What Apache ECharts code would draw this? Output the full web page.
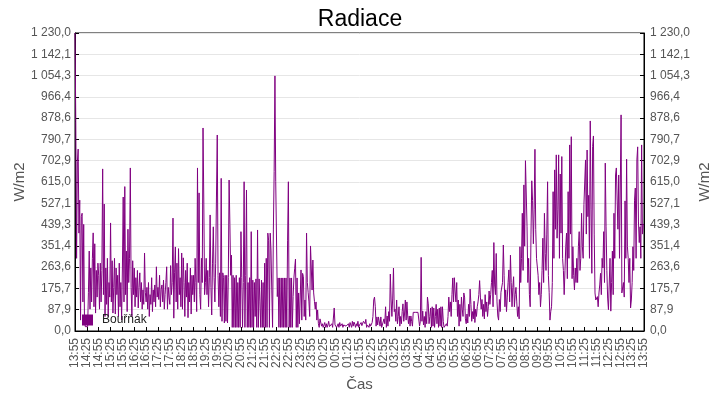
<!DOCTYPE html>
<html>
<head>
<meta charset="utf-8">
<script src="https://cdn.jsdelivr.net/npm/echarts@6/dist/echarts.min.js"></script>
<style>html,body{margin:0;padding:0;background:#fff}#c{width:720px;height:400px}</style>
</head>
<body>
<div id="c"></div>
<script>
// Time axis: first sample and sampling step (minutes)
const startTime = '13:55';
const stepMinutes = 2;
const labelEvery = 15; // one label per 30 minutes

// Radiation values [W/m2], one row per 30 minutes (15 samples each), last value = 13:55 next day
const radiation = [
  1230, 864, 300, 699, 751, 404, 540, 45, 472, 486, 120, 440, 45, 18, 18,        // 13:55
  18, 18, 160, 330, 90, 260, 120, 300, 405, 100, 360, 74, 250, 140, 280,         // 14:25
  230, 90, 280, 120, 250, 669, 150, 524, 60, 260, 110, 300, 60, 200, 140,        // 14:55
  446, 120, 290, 74, 180, 300, 70, 260, 150, 230, 60, 280, 100, 200, 45,         // 15:25
  260, 553, 120, 596, 150, 330, 80, 420, 200, 300, 673, 180, 60, 290, 150,       // 15:55
  260, 100, 220, 140, 250, 95, 180, 240, 120, 200, 90, 170, 110, 322, 160,       // 16:25
  120, 180, 90, 200, 60, 150, 110, 220, 80, 170, 120, 190, 100, 265, 140,        // 16:55
  180, 130, 230, 100, 170, 190, 120, 210, 90, 150, 200, 265, 90, 180, 140,       // 17:25
  110, 270, 150, 200, 466, 53, 240, 347, 120, 280, 90, 340, 150, 220, 100,       // 17:55
  322, 90, 302, 200, 60, 250, 140, 280, 55, 200, 120, 260, 70, 230, 150,         // 18:25
  230, 120, 300, 200, 80, 673, 200, 570, 150, 90, 300, 200, 838, 524, 150,       // 18:55
  200, 300, 150, 250, 100, 220, 479, 180, 66, 280, 430, 220, 120, 280, 553,      // 19:25
  809, 230, 100, 240, 60, 630, 40, 240, 220, 33, 230, 40, 230, 33, 220,          // 19:55
  623, 440, 230, 313, 15, 230, 15, 220, 15, 230, 15, 200, 15, 220, 15,           // 20:25
  410, 220, 15, 200, 616, 15, 230, 582, 15, 200, 15, 220, 15, 410, 15,           // 20:55
  210, 15, 200, 60, 215, 15, 417, 15, 215, 120, 15, 210, 15, 200, 15,            // 21:25
  280, 15, 300, 15, 404, 375, 15, 404, 334, 169, 15, 417, 658, 1053, 616,        // 21:55
  616, 142, 219, 15, 219, 15, 219, 15, 219, 15, 219, 15, 219, 15, 375,           // 22:25
  616, 15, 219, 15, 219, 15, 142, 219, 259, 297, 15, 219, 15, 157, 30,           // 22:55
  30, 252, 45, 238, 224, 60, 128, 45, 404, 200, 160, 120, 60, 351, 348,          // 23:25
  169, 293, 157, 122, 90, 120, 45, 87, 30, 15, 50, 58, 20, 30, 15,               // 23:55
  20, 35, 15, 30, 15, 25, 40, 18, 15, 25, 30, 15, 20, 95, 25,                    // 00:25
  25, 15, 20, 30, 15, 35, 20, 15, 30, 15, 25, 18, 30, 20, 15,                    // 00:55
  20, 30, 15, 35, 25, 15, 40, 20, 37, 28, 15, 30, 20, 40, 15,                    // 01:25
  25, 18, 35, 22, 15, 40, 48, 30, 48, 15, 25, 18, 15, 30, 20,                    // 01:55
  15, 35, 60, 128, 140, 100, 20, 58, 25, 58, 55, 20, 58, 15, 15,                 // 02:25
  15, 50, 30, 100, 15, 62, 20, 80, 40, 235, 128, 60, 136, 260, 80,               // 02:55
  90, 40, 128, 30, 60, 100, 20, 60, 30, 80, 112, 40, 70, 128, 45,                // 03:25
  120, 62, 30, 62, 20, 62, 40, 20, 77, 77, 77, 77, 77, 77, 77,                   // 03:55
  77, 20, 40, 304, 40, 82, 25, 60, 15, 80, 30, 140, 112, 30, 60,                 // 04:25
  95, 15, 100, 20, 95, 15, 60, 110, 30, 90, 15, 95, 20, 100, 15,                 // 04:55
  100, 40, 15, 20, 15, 30, 20, 60, 140, 80, 120, 60, 150, 219, 120,              // 05:25
  220, 165, 120, 200, 60, 128, 20, 110, 40, 140, 90, 60, 157, 140, 50,           // 05:55
  30, 70, 33, 110, 60, 173, 110, 40, 80, 50, 123, 35, 90, 60, 100,               // 06:25
  120, 150, 208, 140, 90, 130, 60, 110, 50, 150, 80, 120, 60, 100, 165,          // 06:55
  110, 150, 200, 250, 100, 365, 190, 150, 320, 120, 62, 45, 130, 80, 160,        // 07:25
  160, 200, 355, 230, 100, 170, 80, 140, 200, 252, 120, 313, 200, 100, 180,      // 07:55
  224, 100, 150, 180, 120, 60, 100, 50, 348, 200, 300, 486, 250, 603, 350,       // 08:25
  703, 703, 430, 200, 300, 150, 100, 400, 620, 539, 360, 500, 750, 420, 300,     // 08:55
  300, 230, 150, 200, 100, 150, 250, 383, 200, 486, 320, 250, 400, 616, 230,     // 09:25
  160, 45, 80, 100, 200, 575, 300, 665, 420, 727, 383, 500, 727, 300, 648,       // 09:55
  404, 720, 300, 250, 150, 250, 350, 404, 216, 575, 300, 768, 400, 802, 216,     // 10:25
  348, 230, 170, 260, 200, 300, 200, 350, 410, 250, 300, 486, 350, 300, 523,     // 10:55
  523, 706, 400, 747, 472, 560, 300, 867, 500, 238, 761, 805, 400, 157, 128,     // 11:25
  128, 142, 100, 157, 190, 238, 150, 300, 260, 410, 200, 693, 430, 250, 136,     // 11:55
  88, 95, 300, 82, 200, 330, 150, 486, 300, 644, 673, 665, 420, 644, 300,        // 12:25
  300, 892, 157, 150, 200, 140, 537, 300, 709, 350, 300, 200, 300, 95, 128,      // 12:55
  200, 348, 250, 540, 590, 300, 706, 760, 450, 365, 430, 300, 768, 400, 440,     // 13:25
  440                                                                            // 13:55
];

// Y tick labels (0 .. 1230 in 14 steps)
const yTickLabels = ['0,0','87,9','175,7','263,6','351,4','439,3','527,1','615,0',
  '702,9','790,7','878,6','966,4','1 054,3','1 142,1','1 230,0'];
const yMax = 1230;
const yStep = yMax / (yTickLabels.length - 1);

// Build time categories
const categories = [];
(function () {
  const p = startTime.split(':');
  let m = parseInt(p[0], 10) * 60 + parseInt(p[1], 10);
  for (let i = 0; i < radiation.length; i++) {
    const mm = ((m % 1440) + 1440) % 1440;
    const h = Math.floor(mm / 60), mi = mm % 60;
    categories.push((h < 10 ? '0' : '') + h + ':' + (mi < 10 ? '0' : '') + mi);
    m += stepMinutes;
  }
})();

const font = 'Liberation Sans';
function yFmt(v) {
  const i = Math.round(v / yStep);
  return yTickLabels[i] !== undefined ? yTickLabels[i] : '';
}
function yAxisDef(pos, showSplit) {
  return {
    type: 'value', position: pos, min: 0, max: yMax, interval: yStep,
    name: 'W/m2', nameLocation: 'middle', nameRotate: 90, nameMoveOverlap: false,
    nameGap: pos === 'left' ? 48 : 53,
    nameTextStyle: { fontFamily: font, fontSize: 15, color: '#555' },
    axisLine: { show: true, lineStyle: { color: '#000', width: 1 } },
    axisTick: { show: true, inside: true, length: 4, lineStyle: { color: '#000' } },
    axisLabel: { formatter: yFmt, fontFamily: font, fontSize: 12, color: '#555', margin: pos === 'left' ? 4 : 6 },
    splitLine: { show: showSplit, lineStyle: { color: '#e6e6e6', width: 1 } }
  };
}

const chart = echarts.init(document.getElementById('c'), null, { renderer: 'canvas' });
chart.setOption({
  animation: false,
  backgroundColor: '#fff',
  title: {
    text: 'Radiace', left: 'center', top: 3,
    textStyle: { fontFamily: font, fontSize: 23, fontWeight: 'normal', color: '#000' }
  },
  legend: {
    data: ['Bouřňák'], left: 82, top: 314, padding: 0, icon: 'rect',
    itemWidth: 11, itemHeight: 11,
    textStyle: { fontFamily: font, fontSize: 12, color: '#222', padding: [0, 0, 0, 4] }
  },
  grid: {
    left: 75, right: 76, top: 33, bottom: 69, show: true, borderColor: '#000', borderWidth: 1,
    containLabel: false, outerBoundsMode: 'none'
  },
  xAxis: {
    type: 'category', data: categories, boundaryGap: false,
    name: 'Čas', nameLocation: 'middle', nameGap: 46, nameMoveOverlap: false,
    nameTextStyle: { fontFamily: font, fontSize: 15, color: '#555' },
    axisLine: { lineStyle: { color: '#000', width: 1 } },
    axisTick: { show: true, inside: true, length: 4, interval: labelEvery - 1, lineStyle: { color: '#000' } },
    axisLabel: { interval: labelEvery - 1, rotate: 90, fontFamily: font, fontSize: 12, color: '#555', margin: 7 },
    splitLine: { show: false }
  },
  yAxis: [yAxisDef('left', true), yAxisDef('right', false)],
  series: [{
    name: 'Bouřňák', type: 'line', data: radiation, yAxisIndex: 0,
    showSymbol: false, symbol: 'none', sampling: null,
    lineStyle: { width: 1, color: '#800080' },
    itemStyle: { color: '#800080' }
  }]
});
</script>
</body>
</html>
